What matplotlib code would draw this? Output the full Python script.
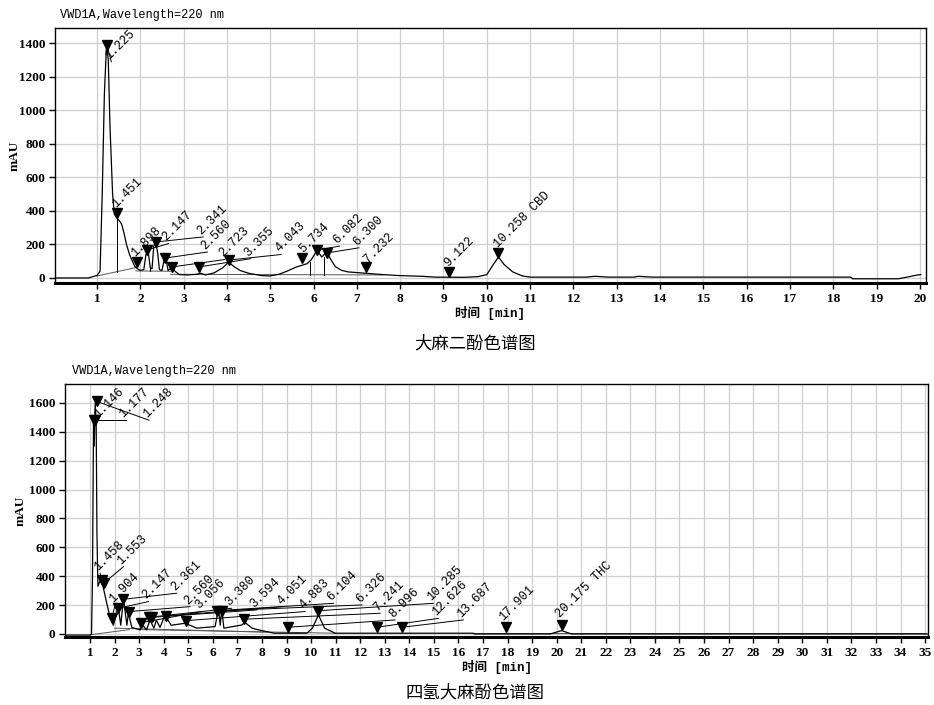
import matplotlib
matplotlib.use("Agg")
import matplotlib.pyplot as plt

# ---- CBD chromatogram (top) ----
cbd_t = [0.03, 0.8, 1.0, 1.07, 1.12, 1.17, 1.22, 1.26, 1.30, 1.36, 1.40, 1.45, 1.52, 1.57, 1.63,
         1.68, 1.75, 1.80, 1.87, 1.93, 2.0, 2.08, 2.13, 2.18, 2.23, 2.27, 2.31, 2.35, 2.40, 2.44,
         2.50, 2.55, 2.59, 2.64, 2.69, 2.74, 2.8, 2.9, 3.1, 3.3, 3.4, 3.5, 3.7, 3.9, 4.04, 4.15,
         4.3, 4.5, 4.8, 5.0, 5.2, 5.4, 5.6, 5.85, 5.95, 6.08, 6.19, 6.30, 6.4, 6.5, 6.65, 6.8,
         7.2, 7.6, 8.0, 8.5, 8.8, 9.5, 9.8, 10.0, 10.15, 10.27, 10.4, 10.6, 10.82, 11.0, 12.3,
         12.5, 12.8, 13.4, 13.5, 13.8, 18.4, 18.45, 19.5, 19.7, 19.95, 20.02]
cbd_y = [0, 0, 15, 40, 500, 1100, 1395, 1300, 900, 500, 380, 360, 340, 320, 260,
         200, 140, 110, 70, 55, 45, 50, 140, 160, 60, 55, 190, 215, 150, 50,
         45, 110, 118, 45, 55, 65, 40, 20, 18, 22, 28, 18, 30, 60, 95, 70,
         45, 28, 14, 12, 22, 42, 65, 85, 110, 165, 125, 155, 110, 68, 45, 36,
         28, 20, 14, 10, 5, 4, 8, 20, 80, 125, 80, 36, 12, 5, 5,
         10, 5, 5, 10, 5, 5, -5, -5, 5, 18, 20]
cbd_labels = ["1.225", "1.451", "1.898", "2.147", "2.341", "2.560", "2.723", "3.355",
              "4.043", "5.734", "6.082", "6.300", "7.232", "9.122", "10.258 CBD"]
cbd_peak_t = [1.23, 1.46, 1.92, 2.15, 2.37, 2.58, 2.74, 3.36, 4.05, 5.73, 6.08, 6.30, 7.22, 9.13, 10.26]
cbd_peak_y = [1390, 388, 95, 167, 215, 119, 66, 66, 107, 119, 167, 149, 66, 36, 149]
# integration baselines and drop lines
cbd_base_t = [[1.0, 1.9], [1.9, 2.7], [2.7, 7.6]]
cbd_base_y = [[12, 62], [42, 40], [22, 18]]
cbd_drop_t = [1.45, 2.22, 5.92, 6.23]
cbd_drop_y = [[38, 360], [42, 60], [20, 95], [20, 125]]

# ---- THC chromatogram (bottom) ----
thc_t = [-0.02, 1.0, 1.06, 1.10, 1.14, 1.17, 1.21, 1.25, 1.28, 1.32, 1.41, 1.50, 1.68, 1.81, 1.95,
         2.15, 2.25, 2.36, 2.5, 2.56, 2.7, 3.04, 3.1, 3.3, 3.44, 3.6, 3.7, 3.85, 4.05, 4.3,
         4.87, 5.35, 6.09, 6.23, 6.3, 6.36, 6.45, 7.18, 7.3, 7.6, 7.86, 8.5, 9.83, 10.05, 10.3,
         10.55, 10.98, 16.6, 16.65, 19.74, 20.2, 20.6, 35.1]
thc_y = [-8, -8, 0, 400, 1460, 1300, 1600, 1450, 700, 330, 370, 350, 212, 120, 60,
         185, 60, 245, 60, 145, 45, 28, 70, 28, 97, 40, 95, 45, 131, 60,
         74, 40, 51, 175, 60, 168, 40, 62, 80, 40, 28, 5, 5, 40, 131,
         40, 5, 5, 0, 0, 23, 0, 0]
thc_labels = ["1.146", "1.177", "1.248", "1.458", "1.553", "1.904", "2.147", "2.361", "2.560",
              "3.056", "3.380", "3.594", "4.051", "4.883", "6.104", "6.326", "7.241", "8.996",
              "10.285", "12.626", "13.687", "17.901", "20.175 THC"]
thc_peak_t = [1.16, 1.20, 1.27, 1.48, 1.55, 1.88, 2.15, 2.36, 2.60, 3.08, 3.38, 3.51, 4.10,
              4.91, 6.16, 6.36, 7.25, 9.04, 10.30, 12.68, 13.70, 17.94, 20.21]
thc_peak_y = [1480, 1480, 1610, 370, 350, 108, 178, 240, 155, 78, 115, 115, 125,
              92, 161, 161, 102, 46, 161, 46, 46, 46, 62]
thc_base_t = [[1.05, 2.6], [2.0, 8.2], [3.0, 11.0], [16.6, 35.0]]
thc_base_y = [[-5, 30], [40, 12], [30, 5], [5, 5]]

# label anchor positions (where each rotated label starts)
cbd_lab_pos = [(1.33, 1290), (1.49, 405), (1.93, 110), (2.65, 205), (3.45, 245), (3.55, 155),
               (3.95, 110), (4.55, 115), (5.25, 140), (5.8, 135), (6.6, 190), (7.05, 180),
               (7.3, 75), (9.15, 50), (10.3, 165)]
thc_lab_pos = [(1.4, 1480), (2.45, 1480), (3.4, 1480), (1.41, 420), (2.36, 466), (2.02, 200),
               (3.38, 224), (4.53, 282), (5.07, 189), (5.55, 155), (6.77, 178), (7.79, 166),
               (8.87, 189), (9.76, 155), (10.91, 212), (12.07, 201), (12.81, 143), (13.42, 97),
               (14.98, 212), (15.19, 108), (16.2, 97), (17.9, 74), (20.21, 97)]

TICK_FONT = dict(family="Liberation Serif", weight="bold", size=9.5)
MONO = ["Liberation Mono", "Noto Sans CJK SC"]


def draw_chromatogram(ax, t, y, base_t, base_y, peak_t, peak_y, labels, lab_pos,
                      xlim, ylim, xticks, yticks):
    ax.set_xlim(*xlim)
    ax.set_ylim(*ylim)
    ax.set_xticks(xticks)
    ax.set_yticks(yticks)
    ax.grid(True, color="#cfcfcf", lw=0.9)
    ax.set_axisbelow(True)
    for bt, by in zip(base_t, base_y):
        ax.plot(bt, by, color="#555555", lw=0.7)
    ax.plot(t, y, color="black", lw=0.9)
    for pt, py, lab, (lx, ly) in zip(peak_t, peak_y, labels, lab_pos):
        ax.plot([pt, lx], [py, ly], color="black", lw=0.7)
        ax.text(lx, ly, lab, rotation=45, rotation_mode="anchor", ha="left", va="bottom",
                family=MONO, size=8.8)
    ax.plot(peak_t, peak_y, "v", color="black", ms=6.5, ls="none")
    for lab in ax.get_xticklabels() + ax.get_yticklabels():
        lab.set_fontproperties(matplotlib.font_manager.FontProperties(**TICK_FONT))
    ax.tick_params(direction="out", length=4, width=1, pad=3)
    for s in ax.spines.values():
        s.set_linewidth(1)
    ax.spines["bottom"].set_linewidth(2.2)
    ax.set_xlabel("时间 [min]", family=MONO, weight="bold", size=9, labelpad=1)
    ax.set_ylabel("mAU", family="Liberation Serif", weight="bold", size=9.5)


fig = plt.figure(figsize=(9.34, 7.05), dpi=100)

ax1 = fig.add_axes([0.0589, 0.5986, 0.9325, 0.3617])
draw_chromatogram(ax1, cbd_t, cbd_y, cbd_base_t, cbd_base_y, cbd_peak_t, cbd_peak_y,
                  cbd_labels, cbd_lab_pos, (0.03, 20.14), (-30, 1492),
                  range(1, 21), range(0, 1401, 200))
for dt, dy in zip(cbd_drop_t, cbd_drop_y):
    ax1.plot([dt, dt], dy, color="black", lw=0.7)
ax1.yaxis.set_label_coords(-0.039, 0.5)

ax2 = fig.add_axes([0.0696, 0.0965, 0.924, 0.3589])
draw_chromatogram(ax2, thc_t, thc_y, thc_base_t, thc_base_y, thc_peak_t, thc_peak_y,
                  thc_labels, thc_lab_pos, (-0.02, 35.12), (-21, 1731),
                  range(1, 36), range(0, 1601, 200))
ax2.yaxis.set_label_coords(-0.044, 0.5)

fig.text(60 / 934, 1 - 15 / 705, "VWD1A,Wavelength=220 nm", family=MONO, size=8.6,
         va="center", ha="left")
fig.text(72 / 934, 1 - 371 / 705, "VWD1A,Wavelength=220 nm", family=MONO, size=8.6,
         va="center", ha="left")
fig.text(475 / 934, 1 - 343 / 705, "大麻二酚色谱图", family="Noto Sans CJK SC",
         weight="light", size=12.5, ha="center", va="center")
fig.text(475 / 934, 1 - 692 / 705, "四氢大麻酚色谱图", family="Noto Sans CJK SC",
         weight="light", size=12.5, ha="center", va="center")

fig.savefig("out.png", dpi=100)
